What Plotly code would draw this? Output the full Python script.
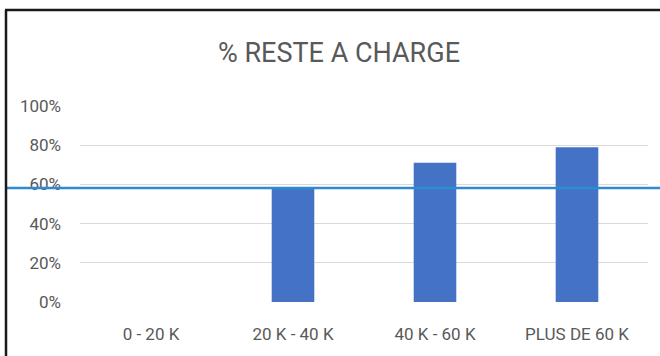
import plotly.graph_objects as go

categories = ["0 - 20 K", "20 K - 40 K", "40 K - 60 K", "PLUS DE 60 K"]
values = [0.0, 0.58, 0.71, 0.79]
threshold = 0.582
tick_vals = [0, 0.2, 0.4, 0.6, 0.8, 1.0]
tick_text = ["0%", "20%", "40%", "60%", "80%", "100%"]

W, H = 660, 356
L, R, T, B = 80, 12, 106, 54
pw = W - L - R
ph = H - T - B

def px_x(p):
    return (p - L) / pw

def px_y(p):
    return (H - B - p) / ph

FONT = "Roboto, Arial, sans-serif"
TXT = "#595959"

fig = go.Figure()
fig.add_trace(go.Bar(
    x=categories, y=values,
    marker=dict(color="#4472C4", line=dict(width=0)),
    width=0.3,
    showlegend=False,
))

shapes = [
    dict(type="line", xref="paper", yref="y", x0=px_x(7), x1=px_x(660),
         y0=threshold, y1=threshold, line=dict(color="#2E8AD3", width=2.5), layer="above"),
    dict(type="line", xref="paper", yref="paper", x0=px_x(5), x1=px_x(660),
         y0=px_y(10), y1=px_y(10), line=dict(color="#1a1a1a", width=2.5)),
    dict(type="line", xref="paper", yref="paper", x0=px_x(6), x1=px_x(6),
         y0=px_y(10), y1=px_y(356), line=dict(color="#1a1a1a", width=2.5)),
]

fig.update_layout(
    width=W, height=H,
    margin=dict(l=L, r=R, t=T, b=B, pad=0),
    paper_bgcolor="white", plot_bgcolor="white",
    title=dict(text="% RESTE A CHARGE", x=339 / W, xanchor="center",
               y=1 - 53 / H, yanchor="middle", yref="container",
               font=dict(family=FONT, size=27, color=TXT)),
    font=dict(family=FONT, size=17, color=TXT),
    shapes=shapes,
    bargap=0.7,
)
fig.update_xaxes(showgrid=False, showline=False, zeroline=False, ticks="",
                 tickfont=dict(family=FONT, size=17, color=TXT),
                 range=[-0.5, 3.5], fixedrange=True, ticklabelstandoff=20)
fig.update_yaxes(range=[0, 1], tickvals=tick_vals, ticktext=tick_text,
                 showgrid=True, gridcolor="#D9D9D9", gridwidth=1.3,
                 zeroline=False, showline=False, ticks="",
                 tickfont=dict(family=FONT, size=17, color=TXT),
                 ticklabelstandoff=18, fixedrange=True)

fig.write_html("out.html", config={"displayModeBar": False})
